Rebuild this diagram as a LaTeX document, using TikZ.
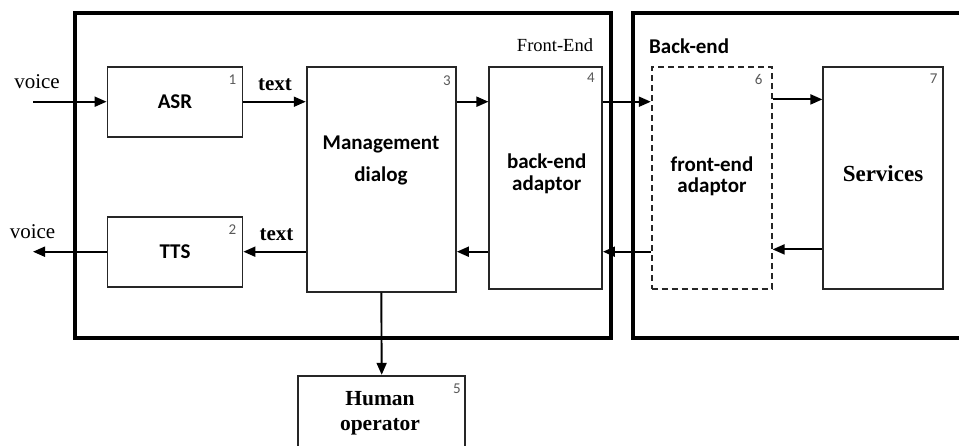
\documentclass[tikz,border=0pt]{standalone}
\usepackage{fontspec}
\setmainfont{Liberation Serif}
\setsansfont{Carlito}
\usepackage{tikz}
\usetikzlibrary{arrows.meta,positioning,calc}
\tikzset{
    frame/.style={draw, line width=4pt, inner sep=0pt},
    block/.style={draw=black!85, line width=1.8pt, inner sep=0pt},
    blockD/.style={block, dash pattern=on 6pt off 4pt},
    sflabel/.style={font=\sffamily\bfseries\fontsize{21}{25}\selectfont, anchor=base, inner sep=0pt},
    rmlabel/.style={font=\fontsize{21}{25}\selectfont, anchor=base, inner sep=0pt},
    rmbold/.style={font=\bfseries\fontsize{21}{25}\selectfont, anchor=base, inner sep=0pt},
    num/.style={font=\sffamily\fontsize{15}{17}\selectfont, text=black!65, anchor=north east, inner sep=0pt},
    flow/.style={line width=1.9pt, -{Triangle[length=12pt,width=10pt]}},
}

\begin{document}
\begin{tikzpicture}[x=1pt, y=-1pt]
    \useasboundingbox (0,0) rectangle (959,445);
    \clip (0,0) rectangle (959,445);
    % front-end and back-end frames
    \node[frame, minimum width=536pt, minimum height=325pt] (fe) at (343,175.5) {};
    \node[frame, minimum width=350pt, minimum height=325pt] (be) at (808,175.5) {};
    \node[rmlabel, font=\fontsize{18.5}{22}\selectfont] (feT) at (555,51.7) {Front-End};
    \node[sflabel, anchor=base west] (beT) at (649,53.3) {Back-end};

    % blocks
    \node[block, minimum width=135pt, minimum height=70pt] (asr) at (175,101.7) {};
    \node[sflabel] (asrT) at (175,108.3) {ASR};
    \node[block, minimum width=135pt, minimum height=70pt] (tts) at (175,252.3) {};
    \node[sflabel] (ttsT) at (175,258.3) {TTS};
    \node[block, minimum width=149.3pt, minimum height=225pt] (mgmt) at (381.3,179.2) {};
    \node[sflabel] (mgmtA) at (381,149) {Management};
    \node[sflabel] (mgmtB) at (381,181.7) {dialog};
    \node[block, minimum width=112.7pt, minimum height=222.3pt] (bea) at (545.7,178) {};
    \node[sflabel] (beaA) at (546.7,168.3) {back-end};
    \node[sflabel] (beaB) at (546.7,190.7) {adaptor};
    \node[blockD, minimum width=120pt, minimum height=222pt] (fea) at (711.7,178) {};
    \node[sflabel] (feaA) at (712,171) {front-end};
    \node[sflabel] (feaB) at (712,192.7) {adaptor};
    \node[block, minimum width=120pt, minimum height=222pt] (srv) at (883.3,178) {};
    \node[rmbold, font=\bfseries\fontsize{23}{27}\selectfont] (srvT) at (883,181.7) {Services};
    \node[block, minimum width=166.7pt, minimum height=100pt] (hum) at (381.7,425.7) {};
    \node[rmbold, font=\bfseries\fontsize{21.5}{25}\selectfont] (humA) at (380,405.7) {Human};
    \node[rmbold, font=\bfseries\fontsize{21.5}{25}\selectfont] (humB) at (380,430) {operator};

    % numbers
    \node[num] (n1) at ([shift={(-7,9)}]asr.north east) {1};
    \node[num] (n2) at ([shift={(-7,8.5)}]tts.north east) {2};
    \node[num] (n3) at ([shift={(-6,10)}]mgmt.north east) {3};
    \node[num] (n4) at ([shift={(-8,7)}]bea.north east) {4};
    \node[num] (n5) at ([shift={(-5,9)}]hum.north east) {5};
    \node[num] (n6) at ([shift={(-10,8)}]fea.north east) {6};
    \node[num] (n7) at ([shift={(-6.6,8)}]srv.north east) {7};

    % connectors
    \coordinate (top) at (0,101.7);
    \coordinate (bot) at (0,251.7);
    \coordinate (vin) at (33,101.7);
    \coordinate (vout) at (33,251.7);
    \node[rmlabel] (vinT) at (37,88) {voice};
    \node[rmlabel] (voutT) at (32.5,238) {voice};
    \node[rmbold] (txtA) at (275,90.7) {text};
    \node[rmbold] (txtB) at (276.5,240) {text};
    \draw[flow] (vin) -- (asr.west);
    \draw[flow] (asr.east) -- (asr.east -| mgmt.west);
    \draw[flow] (mgmt.west |- bot) -- (tts.east |- bot);
    \draw[flow] (tts.west |- bot) -- (vout);
    \draw[flow] (mgmt.east |- top) -- (bea.west |- top);
    \draw[flow] (bea.east |- top) -- (fea.west |- top);
    \draw[flow] ([yshift=2.3]fea.east |- top) -- ([yshift=2.3]srv.west |- top);
    \draw[flow] ([yshift=2.3]srv.west |- bot) -- ([yshift=2.3]fea.east |- bot);
    \draw[flow] (fea.west |- bot) -- (bea.east |- bot);
    \draw[flow] (bea.west |- bot) -- (mgmt.east |- bot);
    \draw[flow] (mgmt.south) -- (hum.north);
\end{tikzpicture}
\end{document}
